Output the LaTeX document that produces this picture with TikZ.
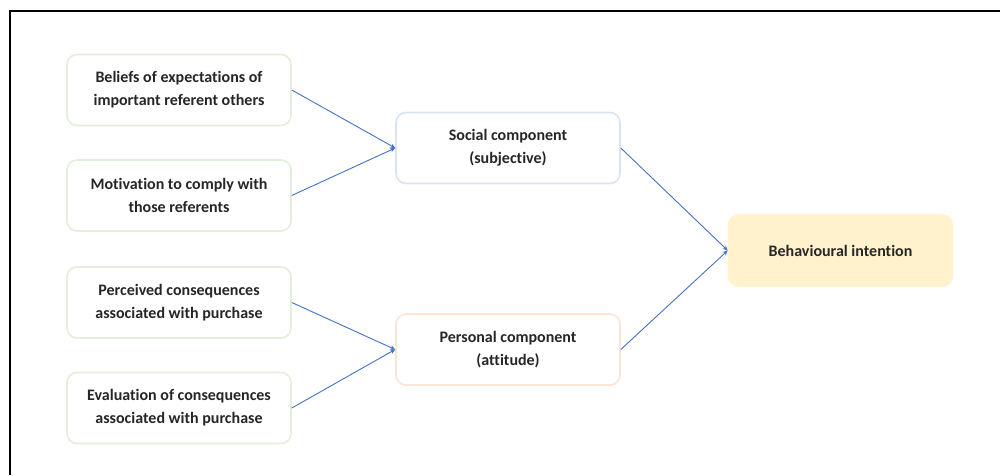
\documentclass[tikz,border=0pt]{standalone}
\usepackage{fontspec}
\setmainfont[Ligatures={NoCommon}]{Carlito}
\usetikzlibrary{arrows.meta}
\definecolor{arrowblue}{HTML}{4472C4}
\definecolor{greenedge}{HTML}{E2EFDA}
\definecolor{blueedge}{HTML}{DAE3F3}
\definecolor{orangeedge}{HTML}{FBE5D6}
\definecolor{yellowfill}{HTML}{FFF2CC}
\definecolor{txt}{HTML}{262626}
\tikzset{
  boxbase/.style={rectangle, rounded corners=10pt, minimum width=224pt, minimum height=71pt,
    align=center, text=txt, font=\fontsize{16}{23}\selectfont\bfseries, line width=1.6pt, inner sep=0pt},
  lbox/.style={boxbase, draw=greenedge, fill=white},
  sbox/.style={boxbase, draw=blueedge, fill=white},
  pbox/.style={boxbase, draw=orangeedge, fill=white},
  bbox/.style={boxbase, draw=yellowfill, fill=yellowfill},
  arr/.style={draw=arrowblue, line width=0.9pt, -{Stealth[length=5pt,width=4.5pt]}},
  frameline/.style={line width=2pt, draw=black}
}
\begin{document}
\begin{tikzpicture}[x=1pt,y=-1pt]
\useasboundingbox (0,0) rectangle (1000,475);
\coordinate (fa) at (9.5,475);
\coordinate (fb) at (9.5,10.5);
\coordinate (fc) at (1000,10.5);
\draw[frameline] (fa) -- (fb) -- (fc);
\node[lbox] (b1) at (179,90) {Beliefs of expectations of\\important referent others};
\node[lbox] (b2) at (179,195.5) {Motivation to comply with\\those referents};
\node[lbox] (b3) at (179,302.5) {Perceived consequences\\associated with purchase};
\node[lbox] (b4) at (179,408) {Evaluation of consequences\\associated with purchase};
\node[sbox] (soc) at (508,148) {Social component\\(subjective)};
\node[pbox] (per) at (508,349.5) {Personal component\\(attitude)};
\node[bbox] (beh) at (840.5,250.5) {Behavioural intention};
\draw[arr] (b1.east) -- (soc.west);
\draw[arr] (b2.east) -- (soc.west);
\draw[arr] (b3.east) -- (per.west);
\draw[arr] (b4.east) -- (per.west);
\draw[arr] (soc.east) -- (beh.west);
\draw[arr] (per.east) -- (beh.west);
\end{tikzpicture}
\end{document}
